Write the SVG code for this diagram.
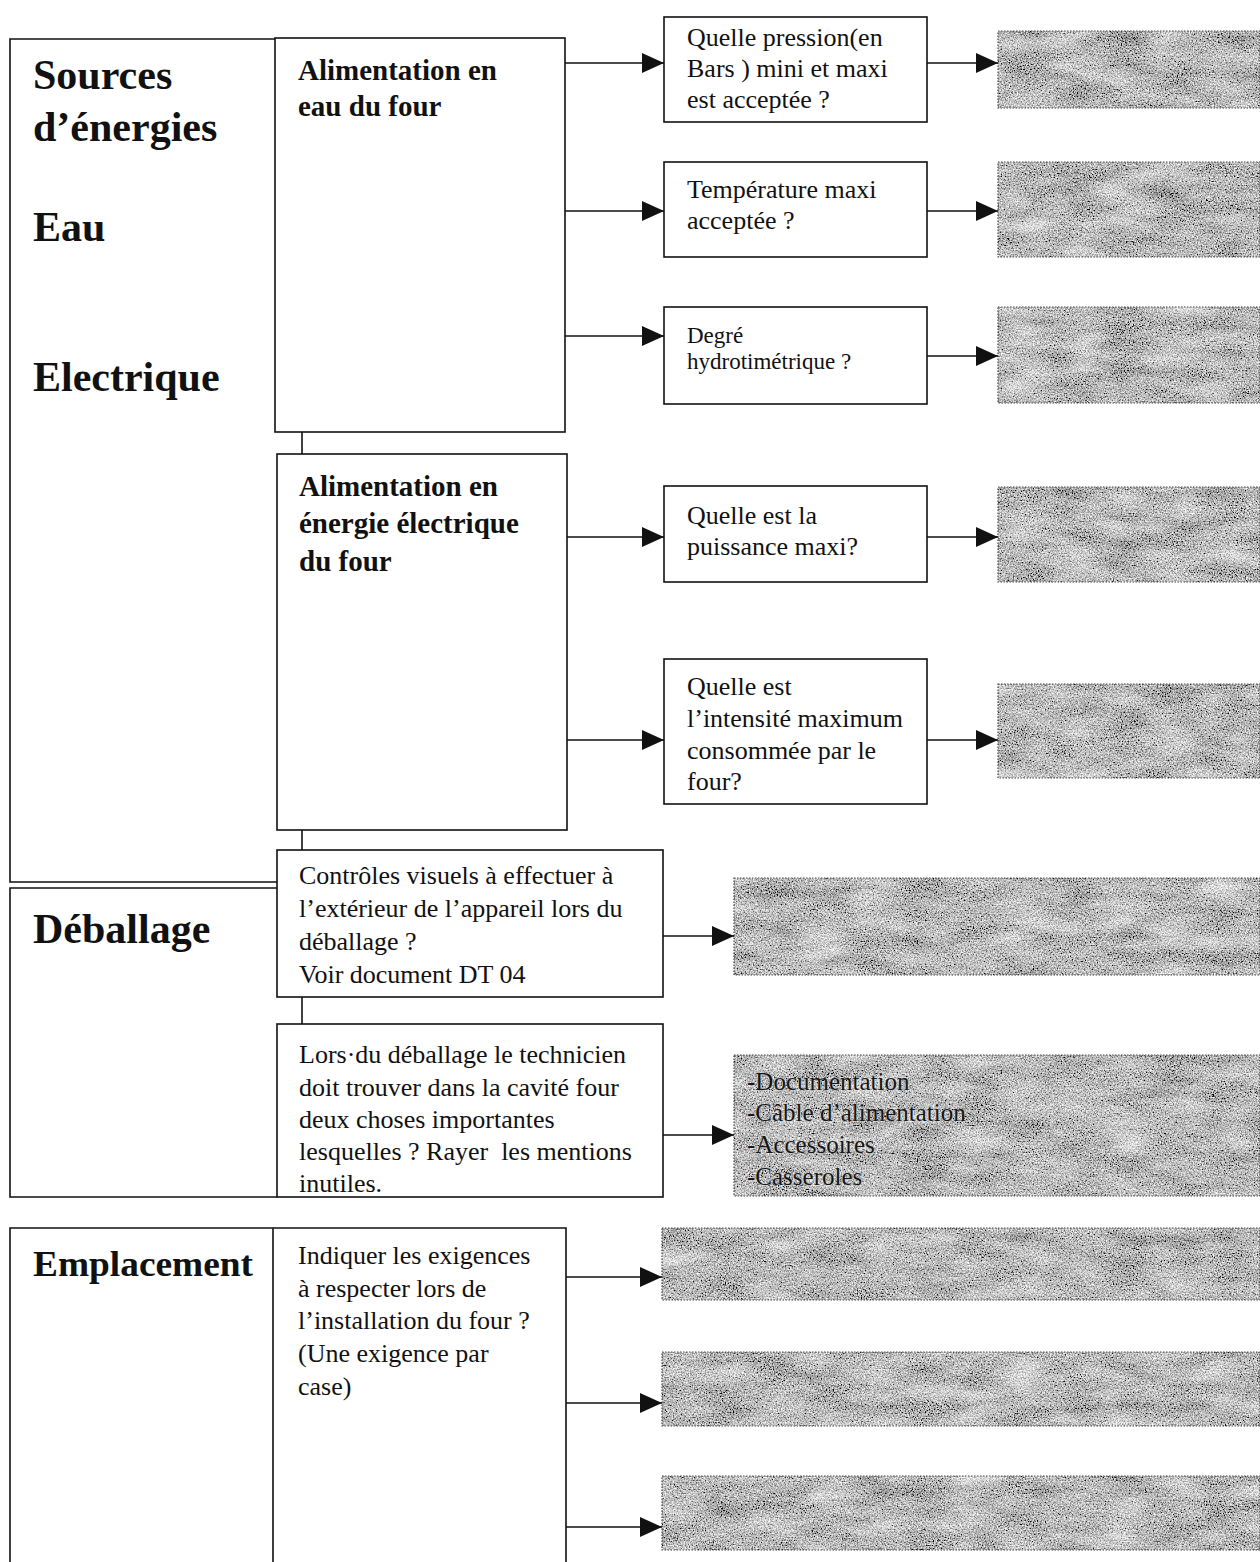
<svg xmlns="http://www.w3.org/2000/svg" width="1260" height="1562" viewBox="0 0 1260 1562">
  <style>
    .box { fill: #fff; stroke: #111; stroke-width: 1.6; }
    .ans { fill: #a0a0a0; filter: url(#grain); }
    .edge { fill: none; stroke: #444; stroke-width: 1.2; stroke-dasharray: 1.5 1.5; }
    .wire { fill: none; stroke: #111; stroke-width: 1.6; }
    .arrow { fill: none; stroke: #111; stroke-width: 1.6; marker-end: url(#head); }
    .h1 { font-family: "Liberation Serif", "Times New Roman", serif; font-weight: bold; font-size: 42px; fill: #111; }
    .h2 { font-family: "Liberation Serif", "Times New Roman", serif; font-weight: bold; font-size: 29px; fill: #111; }
    .q { font-family: "Liberation Serif", "Times New Roman", serif; font-size: 26px; fill: #111; white-space: pre; }
    .qs { font-family: "Liberation Serif", "Times New Roman", serif; font-size: 23px; fill: #111; }
    .list { font-family: "Liberation Serif", "Times New Roman", serif; font-size: 25px; fill: #151515; stroke: #e8e8e8; stroke-width: 0.5; paint-order: stroke; }
  </style>
  <defs>
    <marker id="head" markerWidth="22" markerHeight="20" refX="22" refY="10" orient="auto" markerUnits="userSpaceOnUse">
      <path d="M0,0 L22,10 L0,20 Z" fill="#111"/>
    </marker>
    <!-- speckled grey fill for the answer fields -->
    <filter id="grain" x="0" y="0" width="100%" height="100%" filterUnits="objectBoundingBox">
      <feTurbulence type="fractalNoise" baseFrequency="0.75" numOctaves="2" seed="7" result="fine"/>
      <feTurbulence type="fractalNoise" baseFrequency="0.02 0.06" numOctaves="2" seed="3" result="coarse"/>
      <feComposite in="fine" in2="coarse" operator="arithmetic" k1="0" k2="0.9" k3="0.25" k4="-0.075" result="mix"/>
      <feColorMatrix in="mix" type="matrix" values="1.9 0 0 0 -0.3  1.9 0 0 0 -0.3  1.9 0 0 0 -0.3  0 0 0 0 1" result="grey"/>
      <feComposite in="grey" in2="SourceGraphic" operator="in"/>
    </filter>
  </defs>

  <rect width="1260" height="1562" fill="#fff"/>

  <!-- category: energy sources -->
  <g id="sources">
    <path class="box" d="M277,882 L10,882 L10,39 L277,39"/>
    <text class="h1" x="33" y="89">Sources</text>
    <text class="h1" x="33" y="141">d’énergies</text>
    <text class="h1" x="33" y="241">Eau</text>
    <text class="h1" x="33" y="391">Electrique</text>
  </g>

  <g id="water-supply">
    <rect class="box" x="275" y="38" width="290" height="394"/>
    <text class="h2" x="298" y="80">Alimentation en</text>
    <text class="h2" x="298" y="116">eau du four</text>
  </g>

  <g id="power-supply">
    <rect class="box" x="277" y="454" width="290" height="376"/>
    <text class="h2" x="299" y="496">Alimentation en</text>
    <text class="h2" x="299" y="533">énergie électrique</text>
    <text class="h2" x="299" y="571">du four</text>
  </g>

  <!-- questions -->
  <g id="q-pressure">
    <rect class="box" x="664" y="17" width="263" height="105"/>
    <text class="q" x="687" y="46">Quelle pression(en</text>
    <text class="q" x="687" y="77">Bars ) mini et maxi</text>
    <text class="q" x="687" y="108">est acceptée ?</text>
  </g>
  <g id="q-temperature">
    <rect class="box" x="664" y="162" width="263" height="95"/>
    <text class="q" x="687" y="198">Température maxi</text>
    <text class="q" x="687" y="229">acceptée ?</text>
  </g>
  <g id="q-hardness">
    <rect class="box" x="664" y="307" width="263" height="97"/>
    <text class="qs" x="687" y="343">Degré</text>
    <text class="qs" x="687" y="369">hydrotimétrique ?</text>
  </g>
  <g id="q-power">
    <rect class="box" x="664" y="486" width="263" height="96"/>
    <text class="q" x="687" y="524">Quelle est la</text>
    <text class="q" x="687" y="555">puissance maxi?</text>
  </g>
  <g id="q-current">
    <rect class="box" x="664" y="659" width="263" height="145"/>
    <text class="q" x="687" y="695">Quelle est</text>
    <text class="q" x="687" y="727">l’intensité maximum</text>
    <text class="q" x="687" y="759">consommée par le</text>
    <text class="q" x="687" y="790">four?</text>
  </g>

  <!-- answer fields -->
  <g id="a-pressure"><rect class="ans" x="998" y="31" width="262" height="77"/><rect class="edge" x="998" y="31" width="262" height="77"/></g>
  <g id="a-temperature"><rect class="ans" x="998" y="162" width="262" height="95"/><rect class="edge" x="998" y="162" width="262" height="95"/></g>
  <g id="a-hardness"><rect class="ans" x="998" y="307" width="262" height="96"/><rect class="edge" x="998" y="307" width="262" height="96"/></g>
  <g id="a-power"><rect class="ans" x="998" y="487" width="262" height="95"/><rect class="edge" x="998" y="487" width="262" height="95"/></g>
  <g id="a-current"><rect class="ans" x="998" y="684" width="262" height="94"/><rect class="edge" x="998" y="684" width="262" height="94"/></g>

  <!-- category: unpacking -->
  <g id="unpacking">
    <path class="box" d="M277,888 L10,888 L10,1197 L277,1197"/>
    <text class="h1" x="33" y="943">Déballage</text>
  </g>
  <g id="visual-check">
    <rect class="box" x="277" y="850" width="386" height="147"/>
    <text class="q" x="299" y="884">Contrôles visuels à effectuer à</text>
    <text class="q" x="299" y="917">l’extérieur de l’appareil lors du</text>
    <text class="q" x="299" y="950">déballage ?</text>
    <text class="q" x="299" y="983">Voir document DT 04</text>
  </g>
  <g id="a-visual-check"><rect class="ans" x="734" y="878" width="526" height="97"/><rect class="edge" x="734" y="878" width="526" height="97"/></g>

  <g id="cavity-items">
    <rect class="box" x="277" y="1024" width="386" height="173"/>
    <text class="q" x="299" y="1063">Lors·du déballage le technicien</text>
    <text class="q" x="299" y="1096">doit trouver dans la cavité four</text>
    <text class="q" x="299" y="1128">deux choses importantes</text>
    <text class="q" x="299" y="1160">lesquelles ? Rayer  les mentions</text>
    <text class="q" x="299" y="1192">inutiles.</text>
  </g>
  <g id="a-cavity-items">
    <rect class="ans" x="734" y="1055" width="526" height="141"/>
    <rect class="edge" x="734" y="1055" width="526" height="141"/>
    <text class="list" x="747" y="1090">-Documentation</text>
    <text class="list" x="747" y="1121">-Câble d’alimentation</text>
    <text class="list" x="747" y="1153">-Accessoires</text>
    <text class="list" x="747" y="1185">-Casseroles</text>
  </g>

  <!-- category: location -->
  <g id="location">
    <path class="box" d="M273,1568 L273,1228 L10,1228 L10,1568"/>
    <text class="h1" x="33" y="1276" textLength="220" lengthAdjust="spacingAndGlyphs" style="font-size:36px">Emplacement</text>
  </g>
  <g id="requirements">
    <path class="box" d="M273,1228 L566,1228 L566,1568"/>
    <text class="q" x="298" y="1264">Indiquer les exigences</text>
    <text class="q" x="298" y="1297">à respecter lors de</text>
    <text class="q" x="298" y="1329">l’installation du four ?</text>
    <text class="q" x="298" y="1362">(Une exigence par</text>
    <text class="q" x="298" y="1395">case)</text>
  </g>
  <g id="a-req-1"><rect class="ans" x="662" y="1228" width="598" height="72"/><rect class="edge" x="662" y="1228" width="598" height="72"/></g>
  <g id="a-req-2"><rect class="ans" x="662" y="1352" width="598" height="74"/><rect class="edge" x="662" y="1352" width="598" height="74"/></g>
  <g id="a-req-3"><rect class="ans" x="662" y="1476" width="598" height="74"/><rect class="edge" x="662" y="1476" width="598" height="74"/></g>

  <!-- connectors -->
  <g id="connectors">
    <line class="wire" x1="302" y1="432" x2="302" y2="454"/>
    <line class="wire" x1="302" y1="830" x2="302" y2="850"/>
    <line class="wire" x1="302" y1="997" x2="302" y2="1024"/>

    <line class="arrow" x1="565" y1="63" x2="664" y2="63"/>
    <line class="arrow" x1="565" y1="211" x2="664" y2="211"/>
    <line class="arrow" x1="565" y1="336" x2="664" y2="336"/>
    <line class="arrow" x1="567" y1="537" x2="664" y2="537"/>
    <line class="arrow" x1="567" y1="740" x2="664" y2="740"/>

    <line class="arrow" x1="927" y1="63" x2="998" y2="63"/>
    <line class="arrow" x1="927" y1="211" x2="998" y2="211"/>
    <line class="arrow" x1="927" y1="356" x2="998" y2="356"/>
    <line class="arrow" x1="927" y1="537" x2="998" y2="537"/>
    <line class="arrow" x1="927" y1="740" x2="998" y2="740"/>

    <line class="arrow" x1="663" y1="936" x2="734" y2="936"/>
    <line class="arrow" x1="663" y1="1135" x2="734" y2="1135"/>

    <line class="arrow" x1="566" y1="1277" x2="662" y2="1277"/>
    <line class="arrow" x1="566" y1="1403" x2="662" y2="1403"/>
    <line class="arrow" x1="566" y1="1527" x2="662" y2="1527"/>
  </g>
</svg>
